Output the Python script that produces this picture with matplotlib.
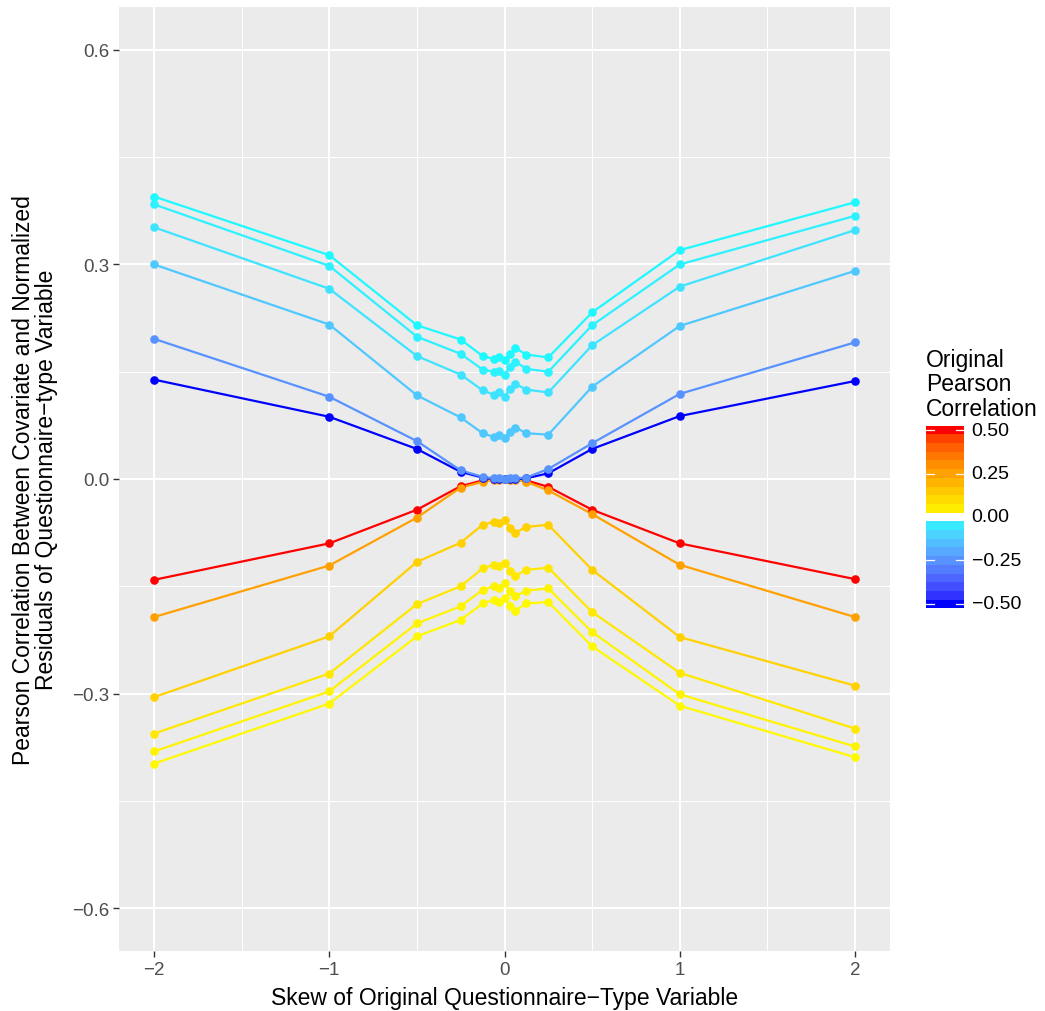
import numpy as np
import matplotlib
matplotlib.use("Agg")
import matplotlib.pyplot as plt

plt.rcParams['font.family'] = ['Liberation Sans', 'DejaVu Sans']

# ---------------- data ----------------
skew = [-2, -1, -0.5, -0.25, -0.125, -0.0625, -0.03125, 0,
        0.03125, 0.0625, 0.125, 0.25, 0.5, 1, 2]

correlations = [0.5, 0.25, 0.125, 0.0625, 0.03125, 0.015625,
                -0.5, -0.25, -0.125, -0.0625, -0.03125, -0.015625]

resid_r_p500 = [-0.141, -0.090, -0.043, -0.010, -0.002, 0.000, 0.000, 0.000, 0.000, 0.000, -0.002, -0.011, -0.043, -0.090, -0.140]
resid_r_p250 = [-0.193, -0.121, -0.054, -0.012, -0.004, -0.001, -0.001, 0.000, -0.001, -0.001, -0.004, -0.016, -0.049, -0.120, -0.193]
resid_r_p125 = [-0.305, -0.220, -0.116, -0.089, -0.064, -0.060, -0.062, -0.057, -0.068, -0.075, -0.067, -0.064, -0.127, -0.221, -0.289]
resid_r_p063 = [-0.356, -0.272, -0.175, -0.150, -0.125, -0.120, -0.122, -0.117, -0.128, -0.135, -0.127, -0.124, -0.186, -0.271, -0.349]
resid_r_p031 = [-0.381, -0.297, -0.202, -0.178, -0.155, -0.150, -0.152, -0.146, -0.157, -0.164, -0.156, -0.153, -0.214, -0.301, -0.374]
resid_r_p016 = [-0.398, -0.314, -0.220, -0.197, -0.174, -0.169, -0.172, -0.166, -0.178, -0.184, -0.174, -0.172, -0.234, -0.317, -0.389]

resid_r_n500 = [0.139, 0.087, 0.042, 0.010, 0.002, 0.000, 0.000, 0.000, 0.000, 0.000, 0.001, 0.008, 0.042, 0.088, 0.137]
resid_r_n250 = [0.196, 0.115, 0.053, 0.012, 0.003, 0.001, 0.001, 0.000, 0.001, 0.001, 0.002, 0.014, 0.050, 0.119, 0.191]
resid_r_n125 = [0.300, 0.216, 0.117, 0.086, 0.064, 0.059, 0.062, 0.057, 0.066, 0.072, 0.064, 0.062, 0.129, 0.214, 0.291]
resid_r_n063 = [0.352, 0.266, 0.172, 0.146, 0.124, 0.118, 0.121, 0.115, 0.126, 0.133, 0.125, 0.121, 0.187, 0.269, 0.348]
resid_r_n031 = [0.384, 0.298, 0.199, 0.175, 0.153, 0.150, 0.151, 0.146, 0.157, 0.164, 0.154, 0.150, 0.215, 0.300, 0.368]
resid_r_n016 = [0.395, 0.313, 0.215, 0.195, 0.172, 0.168, 0.170, 0.166, 0.175, 0.183, 0.174, 0.170, 0.233, 0.320, 0.387]

series = [resid_r_p500, resid_r_p250, resid_r_p125, resid_r_p063, resid_r_p031, resid_r_p016,
          resid_r_n500, resid_r_n250, resid_r_n125, resid_r_n063, resid_r_n031, resid_r_n016]

x_ticks = [-2, -1, 0, 1, 2]
x_ticklabels = ["\u22122", "\u22121", "0", "1", "2"]
y_ticks = [-0.6, -0.3, 0.0, 0.3, 0.6]
y_ticklabels = ["\u22120.6", "\u22120.3", "0.0", "0.3", "0.6"]
legend_breaks = [0.5, 0.25, 0.0, -0.25, -0.5]
legend_labels = ["0.50", "0.25", "0.00", "\u22120.25", "\u22120.50"]

# ---------------- colour scale (Lab interpolation, like ggplot) ----------------
def _srgb_to_lab(rgb):
    rgb = np.asarray(rgb, float)
    lin = np.where(rgb <= 0.04045, rgb / 12.92, ((rgb + 0.055) / 1.055) ** 2.4)
    M = np.array([[0.4124, 0.3576, 0.1805],
                  [0.2126, 0.7152, 0.0722],
                  [0.0193, 0.1192, 0.9505]])
    xyz = M @ lin
    wp = np.array([0.95047, 1.0, 1.08883])
    t = xyz / wp
    f = np.where(t > (6 / 29) ** 3, np.cbrt(t), t / (3 * (6 / 29) ** 2) + 4 / 29)
    return np.array([116 * f[1] - 16, 500 * (f[0] - f[1]), 200 * (f[1] - f[2])])

def _lab_to_srgb(lab):
    L, a, b = lab
    fy = (L + 16) / 116
    fx = fy + a / 500
    fz = fy - b / 200
    def finv(f):
        return np.where(f > 6 / 29, f ** 3, 3 * (6 / 29) ** 2 * (f - 4 / 29))
    wp = np.array([0.95047, 1.0, 1.08883])
    xyz = np.array([finv(fx), finv(fy), finv(fz)]) * wp
    Minv = np.array([[3.2406, -1.5372, -0.4986],
                     [-0.9689, 1.8758, 0.0415],
                     [0.0557, -0.2040, 1.0570]])
    lin = Minv @ xyz
    lin = np.clip(lin, 0, 1)
    rgb = np.where(lin <= 0.0031308, 12.92 * lin, 1.055 * lin ** (1 / 2.4) - 0.055)
    return np.clip(rgb, 0, 1)

_blue = _srgb_to_lab([0, 0, 1])
_cyan = _srgb_to_lab([0, 1, 1])
_yellow = _srgb_to_lab([1, 1, 0])
_red = _srgb_to_lab([1, 0, 0])

def corr_colour(v):
    if abs(v) < 1e-9:
        return (1.0, 1.0, 1.0)
    if v < 0:
        t = (v + 0.5) / 0.5
        lab = _blue + (_cyan - _blue) * t
    else:
        t = v / 0.5
        lab = _yellow + (_red - _yellow) * t
    return tuple(_lab_to_srgb(lab))

# ---------------- figure ----------------
W, H = 1045, 1012
fig = plt.figure(figsize=(W / 100, H / 100), dpi=100)
ax = fig.add_axes([119 / W, 1 - 952 / H, (890 - 119) / W, (952 - 8) / H])
ax.set_facecolor("#EBEBEB")
for s in ax.spines.values():
    s.set_visible(False)

ax.set_xlim(-2.2, 2.2)
ax.set_ylim(-0.66, 0.66)
ax.set_xticks(x_ticks)
ax.set_xticklabels(x_ticklabels)
ax.set_yticks(y_ticks)
ax.set_yticklabels(y_ticklabels)
ax.set_xticks([-1.5, -0.5, 0.5, 1.5], minor=True)
ax.set_yticks([-0.45, -0.15, 0.15, 0.45], minor=True)
ax.grid(which="major", color="white", linewidth=1.5)
ax.grid(which="minor", color="white", linewidth=0.75)
ax.set_axisbelow(True)
ax.tick_params(which="major", length=4, width=1, color="#333333",
               labelcolor="#4D4D4D", labelsize=13.5, pad=3)
ax.tick_params(which="minor", length=0)

colours = [corr_colour(r) for r in correlations]
for ys, c in zip(series, colours):
    ax.plot(skew, ys, color=c, linewidth=1.6, zorder=2, solid_capstyle="butt")
for ys, c in zip(series, colours):
    ax.plot(skew, ys, linestyle="none", marker="o", markersize=6.2,
            markerfacecolor=c, markeredgecolor="none", zorder=3)

ax.set_xlabel("Skew of Original Questionnaire\u2212Type Variable", fontsize=16.5)
ax.xaxis.set_label_coords(0.5, -0.037)
ax.set_ylabel("Pearson Correlation Between Covariate and Normalized\n"
              "Residuals of Questionnaire\u2212type Variable", fontsize=16.5,
              linespacing=1.0)
ax.yaxis.set_label_coords(-0.079, 0.5)

# ---------------- colourbar legend ----------------
cax = fig.add_axes([926 / W, 1 - 609.3 / H, 38 / W, 182.6 / H])
levels = np.round(np.arange(-0.5, 0.5001, 0.05), 4)
cax.barh(levels, [1] * len(levels), height=0.05, left=0,
         color=[corr_colour(v) for v in levels], edgecolor="none")
cax.set_xlim(0, 1)
cax.set_ylim(-0.525, 0.525)
cax.set_xticks([])
for s in cax.spines.values():
    s.set_visible(False)
cax.set_yticks([])
for b in legend_breaks:
    if abs(b) > 1e-9:
        cax.plot([0, 0.2], [b, b], color="white", linewidth=0.9)
        cax.plot([0.8, 1], [b, b], color="white", linewidth=0.9)
for b, lab in zip(legend_breaks, legend_labels):
    cax.text(1.2, b, lab, transform=cax.transData, ha="left", va="center",
             fontsize=14, color="black", clip_on=False)
fig.text(926 / W, 1 - 349 / H, "Original\nPearson\nCorrelation", ha="left", va="top",
         fontsize=16.5, color="black", linespacing=1.07)

fig.savefig("out.png", dpi=100)
